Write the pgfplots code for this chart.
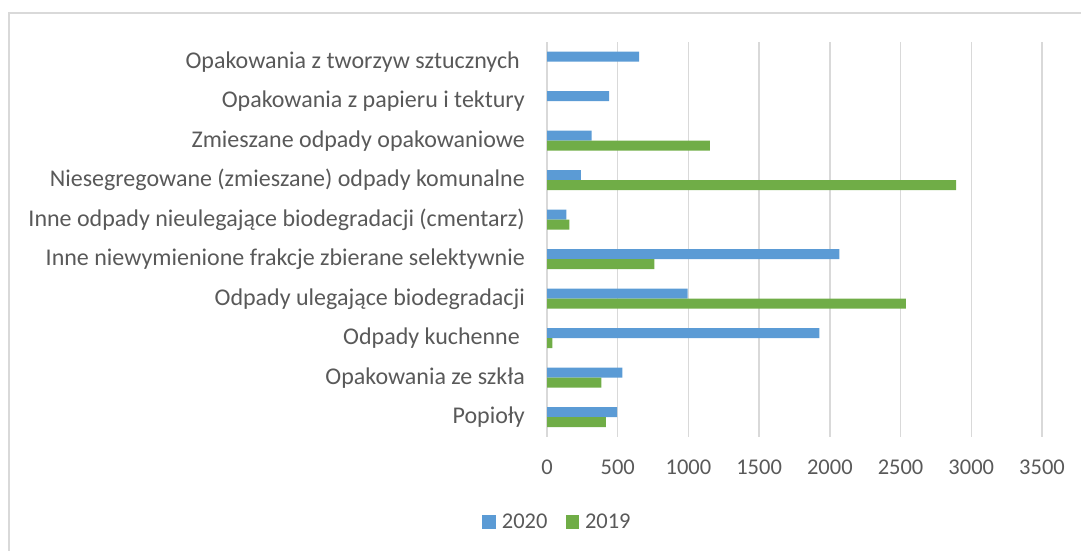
\documentclass[border=0pt]{standalone}
\usepackage{pgfplots}
\pgfplotsset{compat=1.18}
\usepackage{fontspec}
\setmainfont{Carlito}
\definecolor{bblue}{HTML}{5B9BD5}
\definecolor{bgreen}{HTML}{70AD47}
\definecolor{gridc}{HTML}{D9D9D9}
\definecolor{txt}{HTML}{595959}
\newcommand{\lf}{\fontsize{24}{28}\selectfont}
\newcommand{\tf}{\fontsize{22.5}{27}\selectfont}
\pgfplotsset{
  bluelegend/.style={legend image code/.code={\node[fill=bblue, draw=none, shape=rectangle, inner sep=0pt, minimum width=13.5pt, minimum height=13.5pt] at (6.75pt,0pt) {};}},
  greenlegend/.style={legend image code/.code={\node[fill=bgreen, draw=none, shape=rectangle, inner sep=0pt, minimum width=13.5pt, minimum height=13.5pt] at (6.75pt,0pt) {};}}}
\begin{document}
\begin{tikzpicture}[x=1pt,y=1pt]
\path[use as bounding box] (0,0) rectangle (1081,551);
\draw[gridc, line width=1.5pt] (9,0) -- (9,538) -- (1081,538);
\begin{axis}[
  at={(547pt,114pt)}, anchor=south west,
  scale only axis, width=495pt, height=395pt,
  xmin=0, xmax=3500, ymin=-0.5, ymax=9.5,
  xbar, bar width=10pt,
  separate axis lines,
  axis line style={draw=none},
  xtick={0,500,...,3500},
  ytick={0,...,9},
  yticklabels={{Popioły},{Opakowania ze szkła},{Odpady kuchenne\hspace*{5pt}},{Odpady ulegające biodegradacji},{Inne niewymienione frakcje zbierane selektywnie},{Inne odpady nieulegające biodegradacji (cmentarz)},{Niesegregowane (zmieszane) odpady komunalne},{Zmieszane odpady opakowaniowe},{Opakowania z papieru i tektury},{Opakowania z tworzyw sztucznych\hspace*{5pt}}},
  major tick length=0pt,
  xmajorgrids, grid style={gridc, line width=1.5pt},
  /pgf/number format/assume math mode=true,
  /pgf/number format/1000 sep={},
  xticklabel style={font=\tf, text=txt, inner sep=0pt, anchor=north},
  yticklabel style={font=\lf, text=txt, inner sep=0pt, anchor=east},
  xticklabel shift=23pt,
  yticklabel shift=22pt,
  legend style={at={(0.0192,-0.2152)}, anchor=center, draw=none, fill=none,
    font=\tf, text=txt, legend columns=2, nodes={inner sep=0pt},
    /tikz/every odd column/.append style={column sep=6pt},
    /tikz/every even column/.append style={column sep=18pt}},
]
\addplot[fill=bblue, draw=none, bar shift=5pt, bluelegend] coordinates {
  (496,0) (533,1) (1926,2) (994,3) (2068,4) (137,5) (239,6) (316,7) (439,8) (651,9)};
\addlegendentry{2020}
\addplot[fill=bgreen, draw=none, bar shift=-5pt, greenlegend] coordinates {
  (416,0) (385,1) (38,2) (2537,3) (760,4) (158,5) (2892,6) (1152,7)};
\addlegendentry{2019}
\end{axis}
\end{tikzpicture}
\end{document}
